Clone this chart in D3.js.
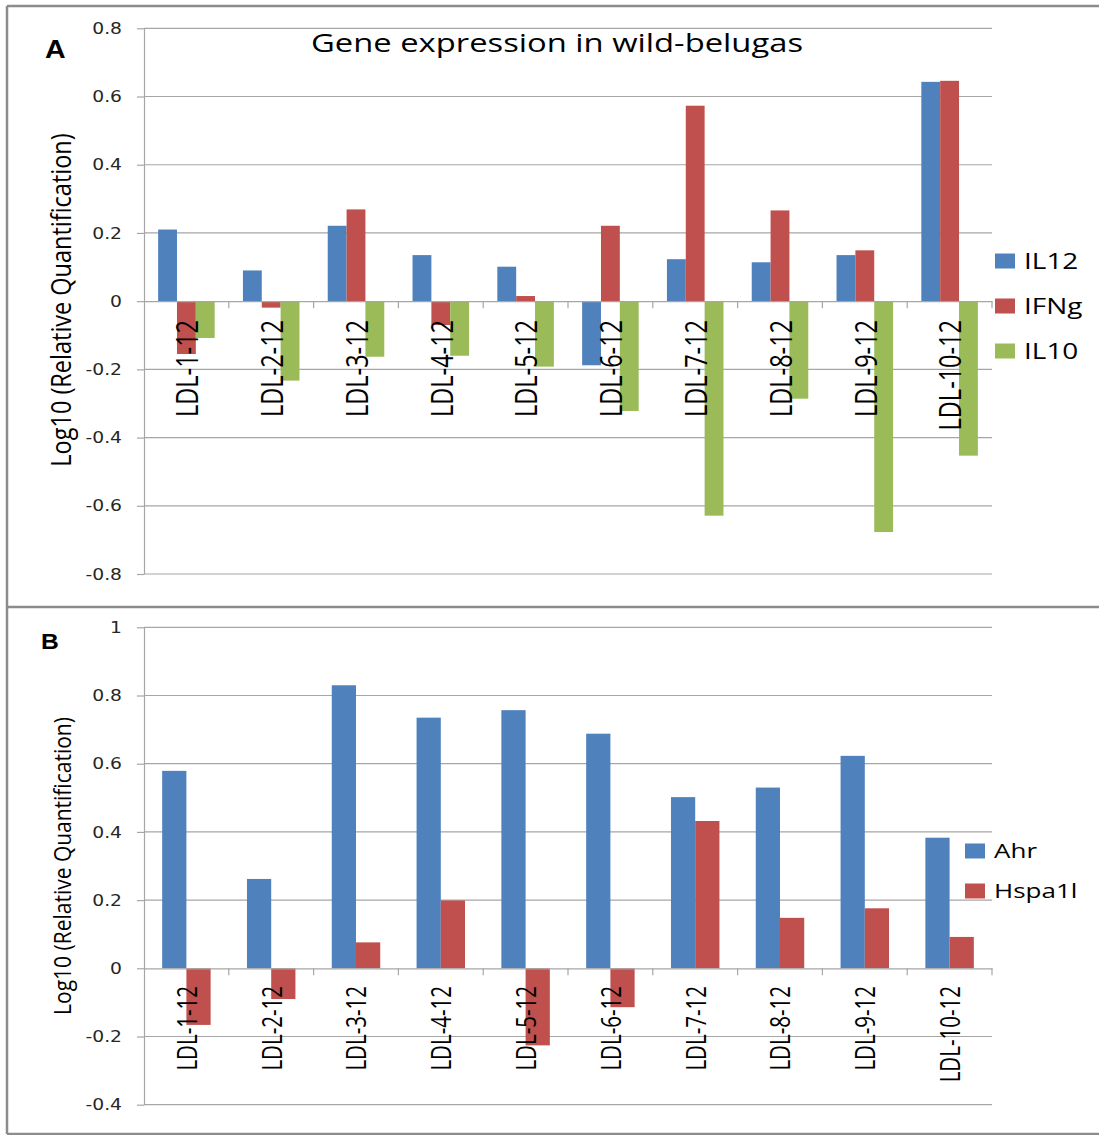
<!DOCTYPE html>
<html lang="en">
    <head>
        <meta charset="utf-8">
        <title>Gene expression in wild-belugas</title>
        <script type="text/javascript" src="https://d3js.org/d3.v7.min.js"></script>
        <style type="text/css">
          body {
            margin: 0;
            background: white;
          }
          .tick text {
            font-family: "DejaVu Sans", sans-serif;
            font-size: 16px;
            fill: #262626;
          }
          .lbl {
            font-family: "Open Sans", sans-serif;
            fill: black;
          }
        </style>
    </head>
    <body>
        <script type="text/javascript">
          // sample names, same for both panels
          var categories = ["LDL-1-12", "LDL-2-12", "LDL-3-12", "LDL-4-12", "LDL-5-12",
                            "LDL-6-12", "LDL-7-12", "LDL-8-12", "LDL-9-12", "LDL-10-12"];

          // panel A values (log10 relative quantification)
          var il12 = [0.210, 0.090, 0.221, 0.135, 0.101, -0.188, 0.123, 0.114, 0.135, 0.643];
          var ifng = [-0.155, -0.019, 0.269, -0.070, 0.015, 0.221, 0.573, 0.266, 0.149, 0.646];
          var il10 = [-0.108, -0.233, -0.163, -0.160, -0.192, -0.322, -0.629, -0.286, -0.677, -0.453];

          // panel B values
          var ahr = [0.579, 0.262, 0.830, 0.735, 0.757, 0.688, 0.502, 0.530, 0.623, 0.383];
          var hspa1l = [-0.166, -0.090, 0.076, 0.199, -0.226, -0.114, 0.432, 0.148, 0.176, 0.092];

          var ticksA = [-0.8, -0.6, -0.4, -0.2, 0, 0.2, 0.4, 0.6, 0.8];
          var ticksB = [-0.4, -0.2, 0, 0.2, 0.4, 0.6, 0.8, 1];

          var blue = "#4F81BD", red = "#C0504D", green = "#9BBB59";

          var w = 1099;
          var h = 1135;
          var plotLeft = 144;
          var plotRight = 992;
          var sx = 1.3; // the original picture is stretched sideways

          var svg = d3.select("body").append("svg")
                      .attr("width", w)
                      .attr("height", h);

          // frame around the two panels
          var frame = svg.append("g").attr("stroke", "#8c8c8c").attr("stroke-width", 2.5);
          frame.append("line").attr("x1", 7).attr("x2", w).attr("y1", 6).attr("y2", 6);
          frame.append("line").attr("x1", 7).attr("x2", w).attr("y1", 607).attr("y2", 607);
          frame.append("line").attr("x1", 7).attr("x2", w).attr("y1", 1134).attr("y2", 1134);
          frame.append("line").attr("x1", 7).attr("x2", 7).attr("y1", 6).attr("y2", 1134);

          // text inside a group that stretches it horizontally
          function stretchText(x, y, scaleX, rotate) {
            var g = svg.append("g")
                       .attr("transform", "translate(" + x + "," + y + ") scale(" + scaleX + ",1)");
            return g.append("text")
                    .attr("class", "lbl")
                    .attr("transform", rotate ? "rotate(-90)" : null);
          }

          function tickFormat(d) {
            return String(d);
          }

          drawPanel({
            series: [{name: "IL12", values: il12, color: blue},
                     {name: "IFNg", values: ifng, color: red},
                     {name: "IL10", values: il10, color: green}],
            domain: [-0.8, 0.8],
            range: [574, 28.3],
            ticks: ticksA,
            labelTop: 320,
            labelSize: 23.5,
            legendX: 995,
            legendY: 261,
            legendStep: 45,
            legendSize: 21.5
          });

          drawPanel({
            series: [{name: "Ahr", values: ahr, color: blue},
                     {name: "Hspa1l", values: hspa1l, color: red}],
            domain: [-0.4, 1],
            range: [1104.7, 627.3],
            ticks: ticksB,
            labelTop: 986,
            labelSize: 20.5,
            legendX: 965,
            legendY: 851,
            legendStep: 40,
            legendSize: 20
          });

          // titles and panel letters
          stretchText(557, 52, 1.26, false)
            .attr("text-anchor", "middle")
            .style("font-size", "26px")
            .text("Gene expression in wild-belugas");

          stretchText(45, 58, 1.1, false)
            .style("font-family", "'Liberation Sans', sans-serif")
            .style("font-weight", "bold")
            .style("font-size", "26px")
            .text("A");

          stretchText(41, 649, 1.12, false)
            .style("font-family", "'Liberation Sans', sans-serif")
            .style("font-weight", "bold")
            .style("font-size", "22px")
            .text("B");

          stretchText(62, 300, 1.15, true)
            .attr("text-anchor", "middle")
            .attr("dy", "0.35em")
            .style("font-size", "23.5px")
            .text("Log10 (Relative Quantification)");

          stretchText(63, 866, 1.15, true)
            .attr("text-anchor", "middle")
            .attr("dy", "0.35em")
            .style("font-size", "21px")
            .text("Log10 (Relative Quantification)");

          function drawPanel(p) {
            var xScale = d3.scaleBand()
                           .domain(categories)
                           .range([plotLeft, plotRight]);
            var names = p.series.map(function(s) { return s.name; });
            // excel style gap of 150% of one bar
            var barW = xScale.bandwidth() / (names.length + 1.5);
            var xInner = d3.scaleBand()
                           .domain(names)
                           .range([barW * 0.75, xScale.bandwidth() - barW * 0.75]);
            var yScale = d3.scaleLinear()
                           .domain(p.domain)
                           .range(p.range);

            // gridlines
            svg.append("g").selectAll("line")
               .data(p.ticks.filter(function(d) { return d !== 0; }))
               .enter()
               .append("line")
               .attr("x1", plotLeft)
               .attr("x2", plotRight)
               .attr("y1", function(d) { return yScale(d); })
               .attr("y2", function(d) { return yScale(d); })
               .attr("stroke", "#a6a6a6")
               .attr("stroke-width", 1.2);

            // y axis
            var yAxis = d3.axisLeft(yScale)
                          .tickValues(p.ticks)
                          .tickSize(7)
                          .tickSizeOuter(0)
                          .tickFormat(tickFormat);
            var gy = svg.append("g")
                        .attr("transform", "translate(" + plotLeft + ",0)")
                        .call(yAxis);
            gy.select(".domain").attr("stroke", "#a6a6a6").attr("stroke-width", 1.2);
            gy.selectAll(".tick line").attr("stroke", "#a6a6a6").attr("stroke-width", 1.2);
            gy.selectAll(".tick text")
              .attr("x", 0)
              .attr("transform", "translate(-22,0) scale(1.17,1)");

            // bars
            p.series.forEach(function(s) {
              svg.append("g").selectAll("rect")
                 .data(s.values)
                 .enter()
                 .append("rect")
                 .attr("x", function(d, i) { return xScale(categories[i]) + xInner(s.name); })
                 .attr("y", function(d) { return yScale(Math.max(0, d)); })
                 .attr("width", xInner.bandwidth())
                 .attr("height", function(d) { return Math.abs(yScale(d) - yScale(0)); })
                 .attr("fill", s.color);
            });

            // category axis on zero, ticks between groups
            var xAxis = d3.axisBottom(xScale).tickSize(0).tickSizeOuter(0).tickFormat("");
            var gx = svg.append("g")
                        .attr("transform", "translate(0," + yScale(0) + ")")
                        .call(xAxis);
            gx.select(".domain").attr("stroke", "#a6a6a6").attr("stroke-width", 1.2);
            var edges = categories.map(function(c) { return xScale(c); }).slice(1);
            edges.push(plotRight);
            gx.selectAll(".edge")
              .data(edges)
              .enter()
              .append("line")
              .attr("class", "edge")
              .attr("x1", function(d) { return d; })
              .attr("x2", function(d) { return d; })
              .attr("y1", 0)
              .attr("y2", 7)
              .attr("stroke", "#a6a6a6")
              .attr("stroke-width", 1.2);

            // vertical sample labels
            categories.forEach(function(c) {
              stretchText(xScale(c) + xScale.bandwidth() / 2 + 1, p.labelTop, sx, true)
                .attr("text-anchor", "end")
                .attr("dy", "0.35em")
                .style("font-size", p.labelSize + "px")
                .text(c);
            });

            // legend
            p.series.forEach(function(s, i) {
              var cy = p.legendY + i * p.legendStep;
              svg.append("rect")
                 .attr("x", p.legendX)
                 .attr("y", cy - 7.5)
                 .attr("width", 20)
                 .attr("height", 15)
                 .attr("fill", s.color);
              stretchText(p.legendX + 29, cy, sx, false)
                .attr("dy", "0.36em")
                .style("font-size", p.legendSize + "px")
                .text(s.name);
            });
          }
        </script>
    </body>
</html>
